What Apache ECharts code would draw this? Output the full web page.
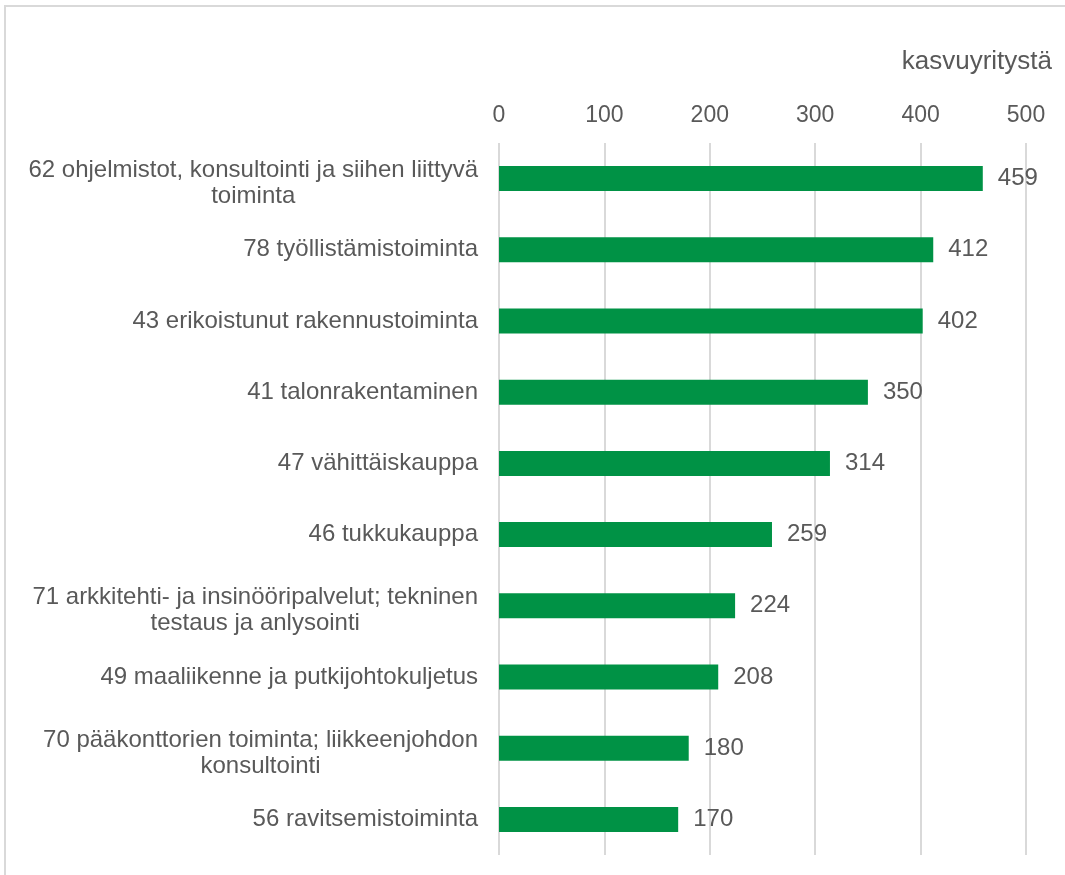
<!DOCTYPE html>
<html>
<head>
<meta charset="utf-8">
<style>
  html, body { margin: 0; padding: 0; background: #fff; }
  #main { width: 1065px; height: 875px; }
</style>
<script src="https://cdn.jsdelivr.net/npm/echarts@6/dist/echarts.min.js"></script>
</head>
<body>
<div id="main"></div>
<script>
// toimialat ylhäältä alas
var categories = [
  '62 ohjelmistot, konsultointi ja siihen liittyvä\ntoiminta',
  '78 työllistämistoiminta',
  '43 erikoistunut rakennustoiminta',
  '41 talonrakentaminen',
  '47 vähittäiskauppa',
  '46 tukkukauppa',
  '71 arkkitehti- ja insinööripalvelut; tekninen\ntestaus ja anlysointi',
  '49 maaliikenne ja putkijohtokuljetus',
  '70 pääkonttorien toiminta; liikkeenjohdon\nkonsultointi',
  '56 ravitsemistoiminta'
];
var values = [459, 412, 402, 350, 314, 259, 224, 208, 180, 170];
var axisTicks = [0, 100, 200, 300, 400, 500];
var unitName = 'kasvuyritystä';

var textColor = '#595959';
var font = 'Liberation Sans, Arial, sans-serif';

var chart = echarts.init(document.getElementById('main'));
chart.setOption({
  animation: false,
  backgroundColor: '#fff',
  title: {
    text: unitName,
    right: 8,
    top: 44,
    textStyle: { fontFamily: font, fontSize: 26, fontWeight: 'normal', color: textColor }
  },
  graphic: [{
    type: 'rect',
    shape: { x: 5, y: 6, width: 1200, height: 1000 },
    style: { fill: 'none', stroke: '#d9d9d9', lineWidth: 2 },
    silent: true
  }],
  grid: { left: 499, right: 39, top: 143, bottom: 20 },
  xAxis: {
    type: 'value',
    position: 'top',
    min: axisTicks[0],
    max: axisTicks[axisTicks.length - 1],
    interval: 100,
    axisLine: { show: false },
    axisTick: { show: false },
    axisLabel: { margin: 16, fontFamily: font, fontSize: 23, color: textColor },
    splitLine: { lineStyle: { color: '#d9d9d9', width: 2 } }
  },
  yAxis: {
    type: 'category',
    inverse: true,
    data: categories,
    axisLine: { show: false },
    axisTick: { show: false },
    axisLabel: {
      margin: 21,
      formatter: function (v) {
        var lines = v.split('\n').map(function (s) { return '{c|' + s + '}'; });
        // kaksiriviset hieman alemmas kuten Excelissä
        if (lines.length > 1) lines.unshift('{s| }');
        return lines.join('\n');
      },
      rich: {
        c: { align: 'center', fontFamily: font, fontSize: 24, color: textColor, lineHeight: 26 },
        s: { fontSize: 4, lineHeight: 10 }
      }
    }
  },
  series: [{
    type: 'bar',
    data: values,
    barWidth: 25,
    itemStyle: { color: '#009245' },
    label: {
      show: true,
      position: 'right',
      distance: 15,
      fontFamily: font,
      fontSize: 24,
      color: textColor
    }
  }]
});
</script>
</body>
</html>
